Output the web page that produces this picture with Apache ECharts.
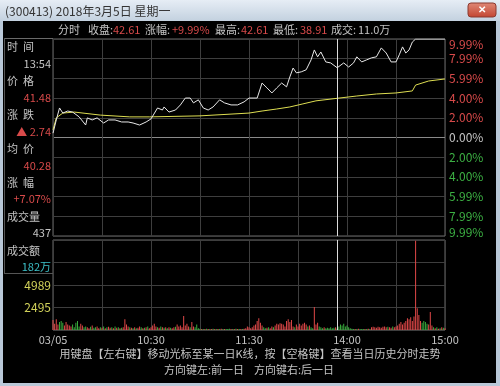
<!DOCTYPE html>
<html><head><meta charset="utf-8">
<script src="https://cdn.jsdelivr.net/npm/echarts@6/dist/echarts.min.js"></script>
<style>html,body{margin:0;padding:0;background:#000;}#c{width:500px;height:386px;}</style>
</head><body><div id="c"></div><script>
// ---------- data ----------
const prevClose = 38.74;
const priceMinutes = [0,2,4,6,9,12,13,16,20,21,24,27,31,34,38,42,46,49,53,57,60,64,67,68,71,75,78,81,84,86,89,92,95,98,102,105,109,113,117,120,125,128,131,134,137,140,143,145,147,149,152,155,158,160,162,164,167,170,174,175,178,181,184,186,189,192,195,198,201,204,207,210,212,214,216,218,220,222,240];
const prices = [38.91,39.43,39.90,39.70,39.78,39.74,39.74,39.55,39.23,39.51,39.43,39.51,39.31,39.43,39.43,39.35,39.35,39.31,39.23,39.35,39.47,39.90,39.82,39.94,39.74,39.82,40.02,40.29,40.29,40.10,40.22,39.90,39.82,39.94,40.22,40.10,40.02,40.02,40.14,40.29,40.29,40.88,40.69,40.49,40.69,40.88,40.73,41.12,41.47,41.28,41.32,41.40,41.79,42.18,41.91,42.10,41.71,41.67,41.48,41.51,41.67,41.51,41.67,41.91,41.71,41.79,41.87,41.91,42.26,42.06,41.71,41.71,41.99,42.30,42.06,42.18,42.49,42.61,42.61];
const avgMinutes = [0,2,6,13,29,47,59,90,120,128,137,145,153,161,174,186,198,210,220,222,230,240];
const avgPrices = [39.04,39.51,39.70,39.74,39.62,39.55,39.55,39.59,39.70,39.78,39.86,39.94,40.06,40.18,40.28,40.37,40.45,40.49,40.57,40.80,40.96,41.04];
const volumes = [
 1100,700,1200,600,900,1000,800,500,900,600,
 500,400,600,300,800,1000,400,700,500,300,
 400,300,200,350,500,250,300,400,200,300,
 250,400,200,300,350,250,300,200,400,250,
 300,200,250,300,1200,600,400,300,250,200,
 300,200,250,400,300,200,250,300,400,200,
 300,500,700,400,300,250,400,300,250,300,
 200,300,250,200,300,350,600,400,500,300,
 1550,500,700,400,300,900,400,300,600,200,
 150,100,120,100,150,100,120,100,150,100,
 100,120,100,150,100,120,100,100,150,100,
 120,100,150,100,100,120,100,150,200,400,
 300,200,300,500,600,1000,1300,800,500,300,
 200,250,300,200,400,300,500,700,600,750,
 700,600,400,1000,1200,900,1100,400,300,600,
 400,700,500,700,800,600,400,500,300,200,
 2550,600,800,400,300,200,300,200,250,200,
 300,200,250,300,200,400,600,500,700,400,
 500,300,200,150,100,120,100,150,100,120,
 100,120,100,150,100,300,350,300,250,350,
 300,250,350,400,300,350,300,250,400,300,
 400,500,700,900,600,800,1000,1300,1200,1400,
 1000,1500,9900,2400,1650,1000,800,1000,900,700,
 600,2000,500,300,200,300,150,200,300,250,
 200];
const volDirections = ("rrrrgggrrr"+"rrgggggrrg"+"grrgrggrrg"+"rgrgrrgrgr"+"grgrrrrgrg"+"rgrrgrgrgr"+"rrrrgrgrgr"+"grgrrgrrrr"+"rrrrgrrggg"+"grgrgrgrgr"+"grgrgrgggr"+"grgrgrgrrr"+"rrrrrrrrrg"+"grgrrgrrrr"+"rrrrrrrrgr"+"rrrrrrgrgg"+"rrrgggrggg"+"gggrgggggg"+"gggggrgrgg"+"grgrgrrrrr"+"rrrrrgrrgr"+"rrrrrrrrrr"+"rrrrrrgggg"+"rrrgrgrgrg"+"r").split("");
const timeTickLabels = {0:'03/05',60:'10:30',120:'11:30',180:'14:00',240:'15:00'};
const pctTickLabels = ['9.99%','7.99%','5.99%','4.00%','2.00%','0.00%','2.00%','4.00%','5.99%','7.99%','9.99%'];
const volTickLabels = ['', '2495', '4989', '', ''];
const cursorMinute = 174;
const headerItems = [
 ['分时','n'],['收盘:','n'],['42.61','r'],['涨幅:','n'],['+9.99%','r'],['最高:','n'],['42.61','r'],['最低:','n'],['38.91','r'],['成交:','n'],['11.0万','n']];
const infoLabels = ['时  间','价  格','涨  跌','均  价','涨  幅','成交量','成交额'];
const infoValues = [['13:54','n'],['41.48','r'],['▲ 2.74','r'],['40.28','r'],['+7.07%','r'],['437','n'],['182万','c']];
const titleText = '(300413) 2018年3月5日 星期一';
const hintLine1 = '用键盘【左右键】移动光标至某一日K线，按【空格键】查看当日历史分时走势';
const hintLine2 = '方向键左:前一日    方向键右:后一日';

// ---------- styles ----------
const RED = '#d84a4a', GREEN = '#3cb043', GRAY = '#c4c4c4', CYAN = '#3cc0c8', YEL = '#d2d25a';
const FONT = '"Noto Sans CJK SC","Microsoft YaHei",sans-serif';
const colorOf = c => c === 'r' ? RED : c === 'c' ? CYAN : GRAY;

const toPct = p => (p / prevClose - 1) * 100;
const priceData = priceMinutes.map((m, i) => [m, toPct(prices[i])]);
const avgData = avgMinutes.map((m, i) => [m, toPct(avgPrices[i])]);
const volData = volumes.map((v, i) => ({value: [i, v], itemStyle: {color: volDirections[i] === 'r' ? '#e04848' : '#38ac3c'}}));

const graphics = [];
// window chrome
graphics.push({type:'rect', z:-5, shape:{x:0,y:0,width:500,height:21}, style:{fill:new echarts.graphic.LinearGradient(0,0,0,1,[{offset:0,color:'#e6edf5'},{offset:1,color:'#c3d1df'}])}});
graphics.push({type:'rect', z:-5, shape:{x:0,y:21,width:3,height:365}, style:{fill:'#b9c8d8'}});
graphics.push({type:'rect', z:-5, shape:{x:496,y:21,width:4,height:365}, style:{fill:'#b9c8d8'}});
graphics.push({type:'rect', z:-5, shape:{x:0,y:383,width:500,height:3}, style:{fill:'#b9c8d8'}});
graphics.push({type:'text', x:5, y:11, style:{text:titleText, fill:'#333', font:'12px '+FONT, textVerticalAlign:'middle'}});
graphics.push({type:'rect', shape:{x:468,y:3,width:28,height:14,r:3}, style:{fill:new echarts.graphic.LinearGradient(0,0,0,1,[{offset:0,color:'#e08a78'},{offset:1,color:'#c24430'}]), stroke:'#8a3a30'}});
graphics.push({type:'text', x:482, y:10, style:{text:'✕', fill:'#fff', font:'bold 10px sans-serif', textAlign:'center', textVerticalAlign:'middle'}});
// header
const headerX = [58,88,113,145,172,215,241,273,300,331,358];
headerItems.forEach((h, i) => graphics.push({type:'text', x:headerX[i], y:30, style:{text:h[0], fill:colorOf(h[1]), font:'11px '+FONT, textVerticalAlign:'middle'}}));
// info panel frame
graphics.push({type:'line', shape:{x1:4,y1:38.5,x2:53,y2:38.5}, style:{stroke:'#6a6a6a', lineWidth:1}});
graphics.push({type:'line', shape:{x1:4.5,y1:38,x2:4.5,y2:273}, style:{stroke:'#555', lineWidth:1}});
graphics.push({type:'line', shape:{x1:4,y1:273.5,x2:53,y2:273.5}, style:{stroke:'#555', lineWidth:1}});
infoLabels.forEach((t, i) => graphics.push({type:'text', x:7, y:47 + i*34, style:{text:t, fill:GRAY, font:'11px '+FONT, textVerticalAlign:'middle'}}));
infoValues.forEach((v, i) => graphics.push({type:'text', x:51, y:64 + i*33.8, style:{text:v[0], fill:colorOf(v[1]), font:'11px '+FONT, textAlign:'right', textVerticalAlign:'middle'}}));
// hints
graphics.push({type:'text', x:250, y:354, style:{text:hintLine1, fill:GRAY, font:'11px '+FONT, textAlign:'center', textVerticalAlign:'middle'}});
graphics.push({type:'text', x:249, y:370, style:{text:hintLine2, fill:GRAY, font:'11px '+FONT, textAlign:'center', textVerticalAlign:'middle'}});

const chart = echarts.init(document.getElementById('c'), null, {renderer:'canvas'});
const gridLine = '#3e3e3e';
chart.setOption({
  backgroundColor: '#000',
  animation: false,
  textStyle: {fontFamily: FONT},
  graphic: {elements: graphics},
  grid: [
    {left:53, top:39, width:392, height:197, show:true, borderColor:'#6a6a6a', borderWidth:1},
    {left:53, top:240, width:392, height:90, show:true, borderColor:'#6a6a6a', borderWidth:1}
  ],
  xAxis: [
    {gridIndex:0, type:'value', min:0, max:240, interval:30, axisLine:{show:false}, axisTick:{show:false}, axisLabel:{show:false}, splitLine:{show:true, lineStyle:{color:gridLine}}},
    {gridIndex:1, type:'value', min:0, max:240, interval:30, axisLine:{show:false}, axisTick:{show:false},
     axisLabel:{show:true, margin:4, color:GRAY, fontSize:11, formatter: v => timeTickLabels[v] || ''},
     splitLine:{show:true, lineStyle:{color:gridLine}}}
  ],
  yAxis: [
    {gridIndex:0, type:'value', position:'right', min:-9.99, max:9.99, interval:1.998,
     axisLine:{show:false}, axisTick:{show:false},
     splitLine:{show:true, lineStyle:{color:[gridLine,gridLine,gridLine,gridLine,gridLine,'#8a8a8a',gridLine,gridLine,gridLine,gridLine,gridLine]}},
     axisLabel:{margin:4, fontSize:12, formatter: v => {
        const i = Math.round((v + 9.99) / 1.998);
        const s = i > 5 ? 'r' : (i < 5 ? 'g' : 'w');
        const p = i === 10 ? 'T' : (i === 0 ? 'B' : '');
        return '{' + s + p + '|' + pctTickLabels[i] + '}';
     }, rich:{
        r:{color:RED, fontSize:12}, rT:{color:RED, fontSize:12, padding:[10,0,0,0]},
        g:{color:GREEN, fontSize:12}, gB:{color:GREEN, fontSize:12, padding:[0,0,8,0]},
        w:{color:GRAY, fontSize:12}
     }}},
    {gridIndex:1, type:'value', position:'left', min:0, max:9978, interval:2494.5,
     axisLine:{show:false}, axisTick:{show:false},
     splitLine:{show:true, lineStyle:{color:gridLine}},
     axisLabel:{margin:2, color:YEL, fontSize:12, formatter: v => volTickLabels[Math.round(v / 2494.5)] || ''}}
  ],
  series: [
    {type:'line', xAxisIndex:0, yAxisIndex:0, data:avgData, showSymbol:false, lineStyle:{color:'#dede52', width:1}, z:3},
    {type:'line', xAxisIndex:0, yAxisIndex:0, data:priceData, showSymbol:false, lineStyle:{color:'#e8e8e8', width:1}, z:4,
     markLine:{symbol:'none', silent:true, label:{show:false}, lineStyle:{color:'#dcdcdc', type:'solid', width:1}, data:[{xAxis:cursorMinute}]}},
    {type:'bar', xAxisIndex:1, yAxisIndex:1, data:volData, barWidth:1, z:3,
     markLine:{symbol:'none', silent:true, label:{show:false}, lineStyle:{color:'#dcdcdc', type:'solid', width:1}, data:[{xAxis:cursorMinute}]}}
  ]
});
</script></body></html>
